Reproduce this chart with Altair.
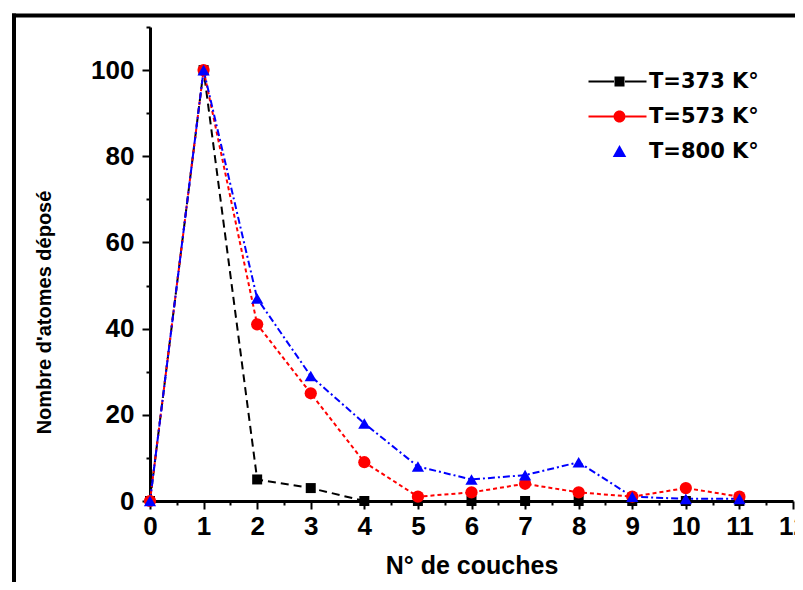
import altair as alt
import pandas as pd

# ---- data ----
couches = list(range(12))  # 0..11
series = ["T=373 K°", "T=573 K°", "T=800 K°"]
vals_373 = [0, 100, 5, 3, 0, 0, 0, 0, 0, 0, 0, 0]
vals_573 = [0, 100, 41, 25, 9, 1, 2, 4, 2, 1, 3, 1]
vals_800 = [0, 100, 47, 29, 18, 8, 5, 6, 9, 1, 0.5, 0.5]
colors = ["#000000", "#ff0000", "#0000ff"]
point_shapes = ["square", "circle", "triangle-up"]
point_sizes = [100, 150, 150]
dashes = [[8, 5], [4, 3], [7, 3, 2, 3]]
x_major = list(range(13))
x_minor = [i + 0.5 for i in range(12)]
y_major = [0, 20, 40, 60, 80, 100]
y_minor = [10, 30, 50, 70, 90, 110]

# legend symbols (line-marker-line); the line pieces are thin filled bars
legend_paths = [
    "M-6.2,-0.2H-1.1V0.2H-6.2ZM-1,-1H1V1H-1ZM1.1,-0.2H5.4V0.2H1.1Z",
    "M-6.2,-0.2H-1.2V0.2H-6.2ZM1.2,-0.2H5.4V0.2H1.2Z"
    "M-1.2,0A1.2,1.2 0 1,0 1.2,0A1.2,1.2 0 1,0 -1.2,0Z",
    "M0,-1.3L1.35,1.1L-1.35,1.1Z",
]

rows = []
for name, vals in zip(series, [vals_373, vals_573, vals_800]):
    for c, v in zip(couches, vals):
        rows.append({"couche": c, "n": v, "serie": name})
df = pd.DataFrame(rows)

FONT = "Liberation Sans"
xscale = alt.Scale(domain=[0, 12], nice=False, zero=False)
yscale = alt.Scale(domain=[0, 110], nice=False)
cscale = alt.Scale(domain=series, range=colors)

x_axis = alt.Axis(values=x_major, format="d", tickSize=8, tickWidth=2, tickColor="black",
                  domainWidth=3, domainColor="black", labelFont=FONT, labelFontSize=26,
                  labelFontWeight="bold", labelColor="black", labelPadding=4, grid=False,
                  title="N° de couches", titleFont=FONT, titleFontSize=25, titleFontWeight="bold",
                  titleColor="black", titlePadding=14, labelFlush=False, orient="bottom")
y_axis = alt.Axis(values=y_major, format="d", tickSize=8, tickWidth=2, tickColor="black",
                  domainWidth=3, domainColor="black", labelFont=FONT, labelFontSize=26,
                  labelFontWeight="bold", labelColor="black", labelPadding=8, grid=False,
                  title="Nombre d'atomes déposé", titleFont=FONT,
                  titleFontSize=20, titleFontWeight="bold", titleColor="black",
                  titleX=-100, titleY=285, titleAngle=270, titleAlign="center",
                  titleBaseline="alphabetic", labelFlush=False, orient="left")
x_axis_minor = alt.Axis(values=x_minor, tickSize=4, tickWidth=2, tickColor="black",
                        labels=False, domain=False, grid=False, title=None, orient="bottom")
y_axis_minor = alt.Axis(values=y_minor, tickSize=4, tickWidth=2, tickColor="black",
                        labels=False, domain=False, grid=False, title=None, orient="left")

base = alt.Chart(df)
empty = base.transform_filter("false")

axes_major = empty.mark_point().encode(
    x=alt.X("couche:Q", scale=xscale, axis=x_axis),
    y=alt.Y("n:Q", scale=yscale, axis=y_axis),
)
axes_minor = empty.mark_point().encode(
    x=alt.X("couche:Q", scale=xscale, axis=x_axis_minor),
    y=alt.Y("n:Q", scale=yscale, axis=y_axis_minor),
)

line_layers = []
point_layers = []
for name, col, dash, shp, sz in zip(series, colors, dashes, point_shapes, point_sizes):
    sub = base.transform_filter(alt.datum.serie == name)
    line_layers.append(
        sub.mark_line(strokeWidth=2, color=col, strokeDash=dash).encode(
            x=alt.X("couche:Q", scale=xscale, axis=None),
            y=alt.Y("n:Q", scale=yscale, axis=None),
        )
    )
    point_layers.append(
        sub.mark_point(filled=True, opacity=1, shape=shp, size=sz, color=col).encode(
            x=alt.X("couche:Q", scale=xscale, axis=None),
            y=alt.Y("n:Q", scale=yscale, axis=None),
        )
    )

legend_layer = empty.mark_point(filled=True, opacity=1).encode(
    x=alt.X("couche:Q", scale=xscale, axis=None),
    y=alt.Y("n:Q", scale=yscale, axis=None),
    color=alt.Color("serie:N", scale=cscale, legend=alt.Legend(title=None)),
    shape=alt.Shape("serie:N", scale=alt.Scale(domain=series, range=legend_paths),
                    legend=alt.Legend(title=None)),
)

frame_df = pd.DataFrame({"k": [0]})
frame_top = alt.Chart(frame_df).mark_rule(color="black", strokeWidth=4).encode(
    x=alt.value(-138), x2=alt.value(660), y=alt.value(-11.5))
frame_left = alt.Chart(frame_df).mark_rule(color="black", strokeWidth=4).encode(
    x=alt.value(-136), y=alt.value(-13.5), y2=alt.value(600))

chart = alt.layer(
    axes_minor, axes_major, *line_layers, *point_layers, legend_layer, frame_top, frame_left
).resolve_axis(
    x="independent", y="independent"
).properties(
    width=643, height=474, background="white",
    autosize=alt.AutoSizeParams(type="none"),
    padding={"left": 142, "top": 19, "right": 2, "bottom": 81},
).configure_view(
    strokeWidth=0
).configure_legend(
    orient="none", legendX=459, legendY=44, padding=0,
    labelFont="DejaVu Sans", labelFontSize=21, labelFontWeight="bold", labelColor="black",
    labelOffset=19, rowPadding=13, symbolSize=100, symbolStrokeWidth=0,
)

chart.save("out.html", embed_options={"renderer": "svg", "actions": False})
